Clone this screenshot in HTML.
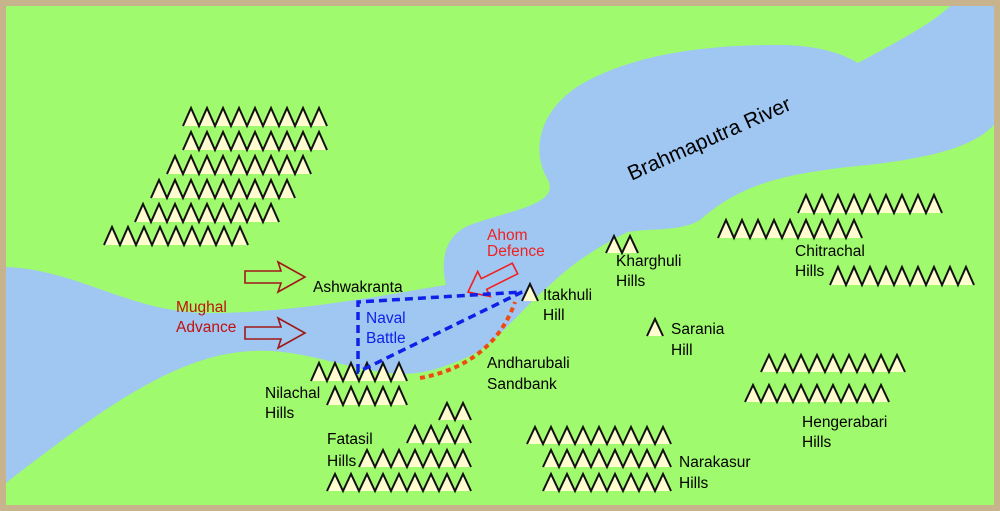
<!DOCTYPE html>
<html><head><meta charset="utf-8"><style>
html,body{margin:0;padding:0;background:#c8b48c}
svg{display:block}
text{font-family:"Liberation Sans",sans-serif;font-size:15.5px}
</style></head><body>
<svg width="1000" height="511" viewBox="0 0 1000 511">
<rect x="0" y="0" width="1000" height="511" fill="#c8b48c"/>
<rect x="6" y="6" width="988" height="499" fill="#a0fa6e"/>
<path fill="#9fc7f2" d="M6,267 C80,270 130,313 210,313 C300,313 400,292 446,285 C440,260 445,235 470,225 C510,210 560,205 548,180 C530,150 540,110 580,85 C640,50 720,45 780,45 C820,45 845,55 858,63 C900,40 930,25 950,6 L994,6 L994,125 C970,150 920,160 848,167 C780,175 740,185 700,220 C680,232 650,228 628,232 C600,245 570,265 550,285 C520,310 500,340 472,355 C440,370 420,374 400,374 C340,370 300,345 240,352 C170,360 100,410 6,483 Z"/>
<g fill="#fffcd0" stroke="#111" stroke-width="2" stroke-linejoin="miter">
<path d="M183,126 l8,-18 l8,18 l8,-18 l8,18 l8,-18 l8,18 l8,-18 l8,18 l8,-18 l8,18 l8,-18 l8,18 l8,-18 l8,18 l8,-18 l8,18 l8,-18 l8,18"/>
<path d="M183,150 l8,-18 l8,18 l8,-18 l8,18 l8,-18 l8,18 l8,-18 l8,18 l8,-18 l8,18 l8,-18 l8,18 l8,-18 l8,18 l8,-18 l8,18 l8,-18 l8,18"/>
<path d="M167,174 l8,-18 l8,18 l8,-18 l8,18 l8,-18 l8,18 l8,-18 l8,18 l8,-18 l8,18 l8,-18 l8,18 l8,-18 l8,18 l8,-18 l8,18 l8,-18 l8,18"/>
<path d="M151,198 l8,-18 l8,18 l8,-18 l8,18 l8,-18 l8,18 l8,-18 l8,18 l8,-18 l8,18 l8,-18 l8,18 l8,-18 l8,18 l8,-18 l8,18 l8,-18 l8,18"/>
<path d="M135,222 l8,-18 l8,18 l8,-18 l8,18 l8,-18 l8,18 l8,-18 l8,18 l8,-18 l8,18 l8,-18 l8,18 l8,-18 l8,18 l8,-18 l8,18 l8,-18 l8,18"/>
<path d="M104,245 l8,-18 l8,18 l8,-18 l8,18 l8,-18 l8,18 l8,-18 l8,18 l8,-18 l8,18 l8,-18 l8,18 l8,-18 l8,18 l8,-18 l8,18 l8,-18 l8,18"/>
<path d="M798,213 l8,-18 l8,18 l8,-18 l8,18 l8,-18 l8,18 l8,-18 l8,18 l8,-18 l8,18 l8,-18 l8,18 l8,-18 l8,18 l8,-18 l8,18 l8,-18 l8,18"/>
<path d="M718,238 l8,-18 l8,18 l8,-18 l8,18 l8,-18 l8,18 l8,-18 l8,18 l8,-18 l8,18 l8,-18 l8,18 l8,-18 l8,18 l8,-18 l8,18 l8,-18 l8,18"/>
<path d="M830,285 l8,-18 l8,18 l8,-18 l8,18 l8,-18 l8,18 l8,-18 l8,18 l8,-18 l8,18 l8,-18 l8,18 l8,-18 l8,18 l8,-18 l8,18 l8,-18 l8,18"/>
<path d="M606,253 l8,-17 l8,17 l8,-17 l8,17"/>
<path d="M522,301 l8,-17 l8,17"/>
<path d="M647,336 l8,-17 l8,17"/>
<path d="M311,381 l8,-18 l8,18 l8,-18 l8,18 l8,-18 l8,18 l8,-18 l8,18 l8,-18 l8,18 l8,-18 l8,18"/>
<path d="M327,405 l8,-18 l8,18 l8,-18 l8,18 l8,-18 l8,18 l8,-18 l8,18 l8,-18 l8,18"/>
<path d="M439,420 l8,-17 l8,17 l8,-17 l8,17"/>
<path d="M407,443 l8,-17 l8,17 l8,-17 l8,17 l8,-17 l8,17 l8,-17 l8,17"/>
<path d="M359,467 l8,-17 l8,17 l8,-17 l8,17 l8,-17 l8,17 l8,-17 l8,17 l8,-17 l8,17 l8,-17 l8,17 l8,-17 l8,17"/>
<path d="M327,491 l8,-17 l8,17 l8,-17 l8,17 l8,-17 l8,17 l8,-17 l8,17 l8,-17 l8,17 l8,-17 l8,17 l8,-17 l8,17 l8,-17 l8,17 l8,-17 l8,17"/>
<path d="M527,444 l8,-17 l8,17 l8,-17 l8,17 l8,-17 l8,17 l8,-17 l8,17 l8,-17 l8,17 l8,-17 l8,17 l8,-17 l8,17 l8,-17 l8,17 l8,-17 l8,17"/>
<path d="M543,467 l8,-17 l8,17 l8,-17 l8,17 l8,-17 l8,17 l8,-17 l8,17 l8,-17 l8,17 l8,-17 l8,17 l8,-17 l8,17 l8,-17 l8,17"/>
<path d="M543,491 l8,-17 l8,17 l8,-17 l8,17 l8,-17 l8,17 l8,-17 l8,17 l8,-17 l8,17 l8,-17 l8,17 l8,-17 l8,17 l8,-17 l8,17"/>
<path d="M761,372 l8,-17 l8,17 l8,-17 l8,17 l8,-17 l8,17 l8,-17 l8,17 l8,-17 l8,17 l8,-17 l8,17 l8,-17 l8,17 l8,-17 l8,17 l8,-17 l8,17"/>
<path d="M745,402 l8,-17 l8,17 l8,-17 l8,17 l8,-17 l8,17 l8,-17 l8,17 l8,-17 l8,17 l8,-17 l8,17 l8,-17 l8,17 l8,-17 l8,17 l8,-17 l8,17"/>
</g>
<g fill="none" stroke="#a01818" stroke-width="1.6">
<path d="M245,271 L281,271 L278,262 L305,277 L278,292 L281,283 L245,283 Z"/>
<path d="M245,327 L281,327 L278,318 L305,333 L278,348 L281,339 L245,339 Z"/>
</g>
<path fill="none" stroke="#f02020" stroke-width="1.6" d="M468,292 L477.7,271.5 L481.3,278.7 L512.3,263.2 L517.7,273.8 L486.7,289.3 L490.3,296.5 Z"/>
<path fill="none" stroke="#1020e8" stroke-width="3.5" stroke-dasharray="8,5" d="M358,372 L358,302 L522,292 Z"/>
<path fill="none" stroke="#f04a10" stroke-width="4" stroke-dasharray="5,4" d="M420,378 C465,370 500,345 515,302"/>
<text x="712" y="145" transform="rotate(-24 712 145)" text-anchor="middle" style="font-size:21px">Brahmaputra River</text>
<g fill="#c01010"><text x="176" y="312">Mughal</text><text x="176" y="332">Advance</text></g>
<g fill="#f02020"><text x="487" y="240">Ahom</text><text x="487" y="256">Defence</text></g>
<g fill="#1020e8"><text x="366" y="323">Naval</text><text x="366" y="343">Battle</text></g>
<g fill="#000">
<text x="313" y="292">Ashwakranta</text>
<text x="543" y="300">Itakhuli</text><text x="543" y="320">Hill</text>
<text x="616" y="266">Kharghuli</text><text x="616" y="286">Hills</text>
<text x="795" y="256">Chitrachal</text><text x="795" y="276">Hills</text>
<text x="671" y="334">Sarania</text><text x="671" y="355">Hill</text>
<text x="487" y="368">Andharubali</text><text x="487" y="389">Sandbank</text>
<text x="265" y="398">Nilachal</text><text x="265" y="418">Hills</text>
<text x="327" y="444">Fatasil</text><text x="327" y="466">Hills</text>
<text x="679" y="467">Narakasur</text><text x="679" y="488">Hills</text>
<text x="802" y="427">Hengerabari</text><text x="802" y="447">Hills</text>
</g>
</svg>
</body></html>
